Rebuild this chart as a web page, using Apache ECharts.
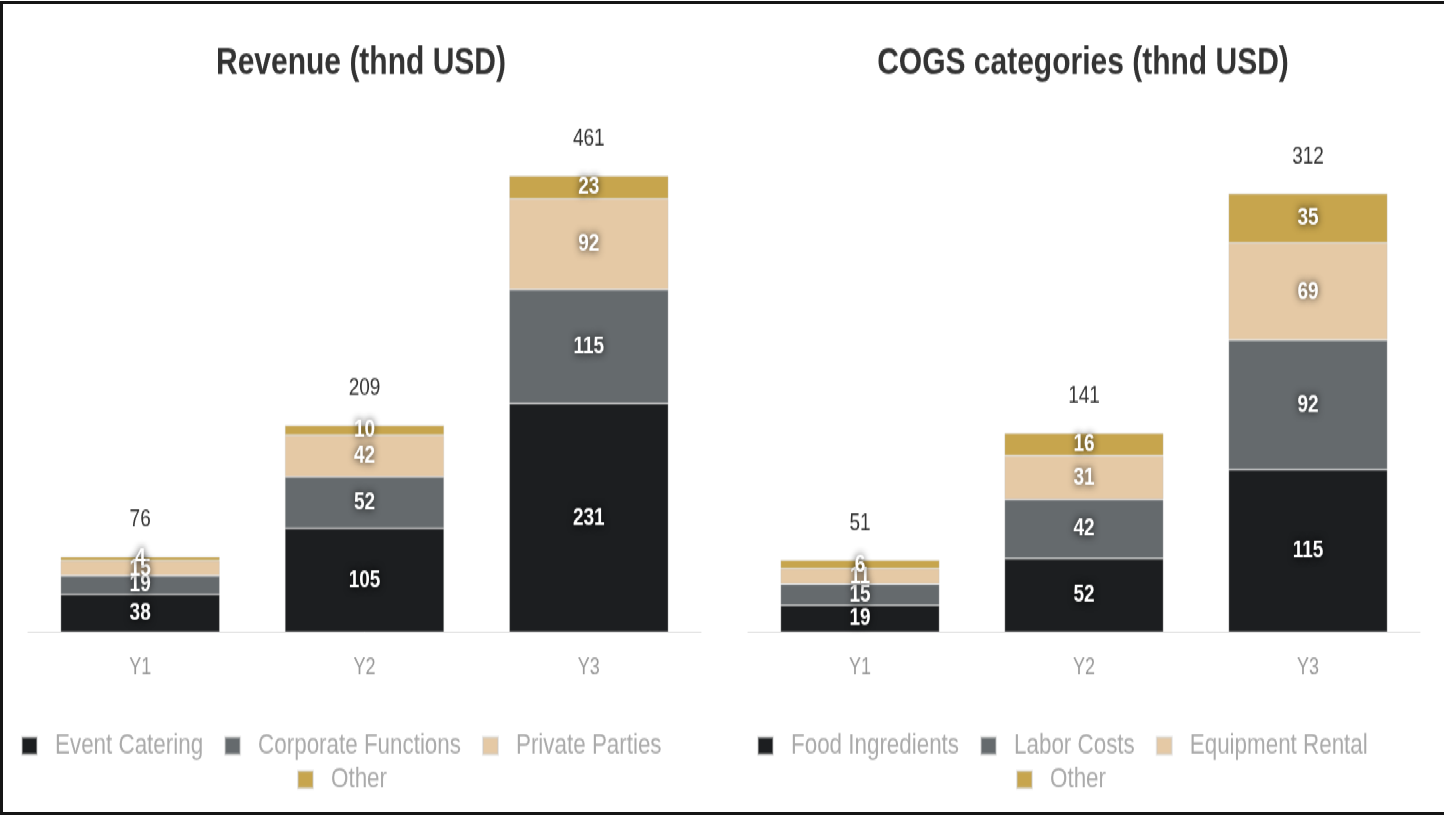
<!DOCTYPE html>
<html>
<head>
<meta charset="utf-8">
<script src="https://cdn.jsdelivr.net/npm/echarts@6/dist/echarts.min.js"></script>
<style>
  html, body { margin: 0; padding: 0; background: #fff; overflow: hidden; }
  /* both panels share a stage that is stretched vertically */
  #stage { position: absolute; left: 0; top: 0; width: 1444px; height: 628px;
           transform: scaleY(1.2994); transform-origin: 0 0; }
  .panel { position: absolute; top: 0; width: 722px; height: 628px; }
  #revenue { left: 0; }
  #cogs { left: 722px; }
  #frame { position: absolute; left: 0; top: 1px; width: 1441px; height: 808px;
           border-top: 3px solid #151515; border-left: 3px solid #151515;
           border-bottom: 3px solid #151515; pointer-events: none; }
</style>
</head>
<body>
<div id="stage">
  <div id="revenue" class="panel"></div>
  <div id="cogs" class="panel"></div>
</div>
<div id="frame"></div>
<script>
// Shared categories
const years = ['Y1', 'Y2', 'Y3'];

// Revenue (thnd USD)
const revenueNames = ['Event Catering', 'Corporate Functions', 'Private Parties', 'Other'];
const eventCatering = [38, 105, 231];
const corporateFunctions = [19, 52, 115];
const privateParties = [15, 42, 92];
const revenueOther = [4, 10, 23];
const revenueTotals = [76, 209, 461];

// COGS categories (thnd USD)
const cogsNames = ['Food Ingredients', 'Labor Costs', 'Equipment Rental', 'Other'];
const foodIngredients = [19, 52, 115];
const laborCosts = [15, 42, 92];
const equipmentRental = [11, 31, 69];
const cogsOther = [6, 16, 35];
const cogsTotals = [51, 141, 312];

const palette = ['#1c1e20', '#656a6d', '#e5c9a5', '#c7a54d'];
const FONT = '"Liberation Sans", Arial, sans-serif';

function legendBlock(names, top, left) {
  return {
    data: names,
    top: top,
    left: left,
    itemWidth: 15,
    itemHeight: 13,
    itemGap: 21,
    icon: 'rect',
    textStyle: { fontFamily: FONT, fontSize: 22.4, color: '#aaa', padding: [0, 0, 0, 13] }
  };
}

function buildOption(title, names, values, totals, grid, yMax, legendLeft) {
  const series = names.map((n, i) => ({
    name: n,
    type: 'bar',
    stack: 'all',
    barWidth: '71%',
    data: values[i],
    itemStyle: { color: palette[i], borderColor: 'rgba(200,200,200,0.45)', borderWidth: 0.8 },
    label: {
      show: true,
      position: 'inside',
      color: '#fff',
      fontFamily: FONT,
      fontWeight: 'bold',
      fontSize: 19,
      textShadowColor: 'rgba(0,0,0,0.85)',
      textShadowBlur: 6
    }
  }));
  // Totals shown above each stacked column
  series.push({
    name: 'Total',
    type: 'bar',
    stack: 'all',
    data: totals.map(() => 0),
    itemStyle: { color: 'transparent' },
    label: {
      show: true,
      position: 'top',
      distance: 19,
      color: '#333',
      fontFamily: FONT,
      fontSize: 19,
      formatter: p => totals[p.dataIndex]
    },
    silent: true
  });
  return {
    animation: false,
    backgroundColor: 'transparent',
    color: palette,
    title: {
      text: title,
      left: 'center',
      top: 29,
      textStyle: { fontFamily: FONT, fontSize: 30, fontWeight: 'bold', color: '#333' }
    },
    legend: [legendBlock(names.slice(0, 3), 558, legendLeft[0]),
             legendBlock(names.slice(3), 584, legendLeft[1])],
    grid: grid,
    xAxis: {
      type: 'category',
      data: years,
      axisLine: { lineStyle: { color: '#ddd' } },
      axisTick: { show: false },
      axisLabel: { color: '#999', fontFamily: FONT, fontSize: 18, margin: 19 }
    },
    yAxis: { type: 'value', min: 0, max: yMax, show: false, splitLine: { show: false } },
    series: series
  };
}

const revChart = echarts.init(document.getElementById('revenue'));
revChart.setOption(buildOption(
  'Revenue (thnd USD)', revenueNames,
  [eventCatering, corporateFunctions, privateParties, revenueOther], revenueTotals,
  { left: 28, right: 21, top: 135.4, bottom: 141.6 }, 461, [16, 292]));

const cogsChart = echarts.init(document.getElementById('cogs'));
cogsChart.setOption(buildOption(
  'COGS categories (thnd USD)', cogsNames,
  [foodIngredients, laborCosts, equipmentRental, cogsOther], cogsTotals,
  { left: 26, right: 24, top: 147.8, bottom: 141.6 }, 312, [30, 289]));
</script>
</body>
</html>
